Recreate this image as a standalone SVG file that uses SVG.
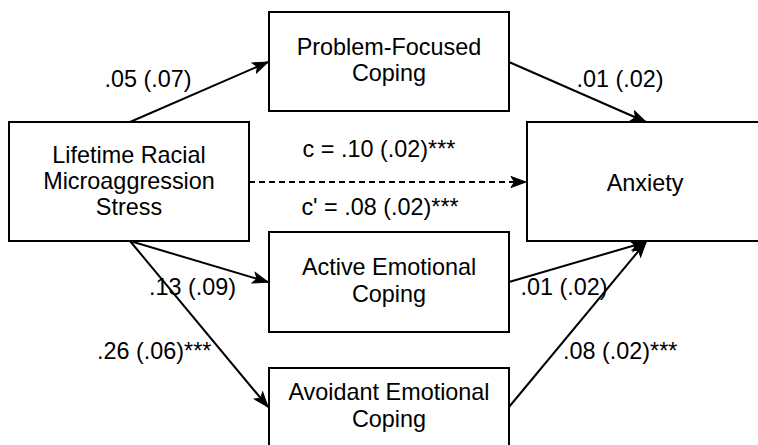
<svg xmlns="http://www.w3.org/2000/svg" width="758" height="445" viewBox="0 0 758 445">
<defs>
<style>
.box{fill:#fff;stroke:#000;stroke-width:2}
.t{font-family:"Liberation Sans",Arial,Helvetica,sans-serif;font-size:23.4px;fill:#000;text-anchor:middle}
.l{font-family:"Liberation Sans",Arial,Helvetica,sans-serif;font-size:23.4px;fill:#000}
.lm{text-anchor:middle}
.e{fill:none;stroke:#000;stroke-width:2}
.d{stroke-dasharray:6 4}
</style>
<marker id="arr" markerUnits="userSpaceOnUse" markerWidth="17" markerHeight="13" refX="16" refY="6.5" orient="auto" viewBox="0 0 17 13">
<path d="M1,1 L16,6.5 L1,12 L4.5,6.5 Z" fill="#000" stroke="#000" stroke-width="1"/>
</marker>
</defs>
<rect width="758" height="445" fill="#fff"/>
<g id="connectors">
<line class="e" x1="130" y1="122" x2="268" y2="62" marker-end="url(#arr)"/>
<line class="e" x1="509" y1="62" x2="646" y2="122" marker-end="url(#arr)"/>
<line class="e d" x1="249" y1="182" x2="526" y2="182" marker-end="url(#arr)"/>
<line class="e" x1="130" y1="241" x2="268" y2="282" marker-end="url(#arr)"/>
<line class="e" x1="130" y1="241" x2="268" y2="407" marker-end="url(#arr)"/>
<line class="e" x1="509" y1="282" x2="646" y2="242" marker-end="url(#arr)"/>
<line class="e" x1="509" y1="407" x2="646" y2="242" marker-end="url(#arr)"/>
</g>
<g id="lifetime">
<rect class="box" x="9" y="122" width="240" height="119"/>
<text class="t" x="129" y="163">Lifetime Racial</text>
<text class="t" x="129" y="189">Microaggression</text>
<text class="t" x="129" y="215">Stress</text>
</g>
<g id="problem">
<rect class="box" x="269" y="12" width="240" height="99"/>
<text class="t" x="389" y="55">Problem-Focused</text>
<text class="t" x="389" y="81">Coping</text>
</g>
<g id="anxiety">
<rect class="box" x="527" y="122" width="240" height="119"/>
<text class="t" x="645" y="191">Anxiety</text>
</g>
<g id="active">
<rect class="box" x="269" y="232" width="240" height="100"/>
<text class="t" x="389" y="275">Active Emotional</text>
<text class="t" x="389" y="302">Coping</text>
</g>
<g id="avoidant">
<rect class="box" x="269" y="368" width="240" height="82"/>
<text class="t" x="389" y="400">Avoidant Emotional</text>
<text class="t" x="389" y="427">Coping</text>
</g>
<g id="labels">
<text class="l lm" x="148" y="87">.05 (.07)</text>
<text class="l lm" x="620" y="87">.01 (.02)</text>
<text class="l lm" x="379" y="157">c = .10 (.02)***</text>
<text class="l lm" x="380" y="215">c' = .08 (.02)***</text>
<text class="l lm" x="192.5" y="295">.13 (.09)</text>
<text class="l lm" x="564" y="295">.01 (.02)</text>
<text class="l" x="97" y="359">.26 (.06)***</text>
<text class="l" x="563" y="359">.08 (.02)***</text>
</g>
</svg>
